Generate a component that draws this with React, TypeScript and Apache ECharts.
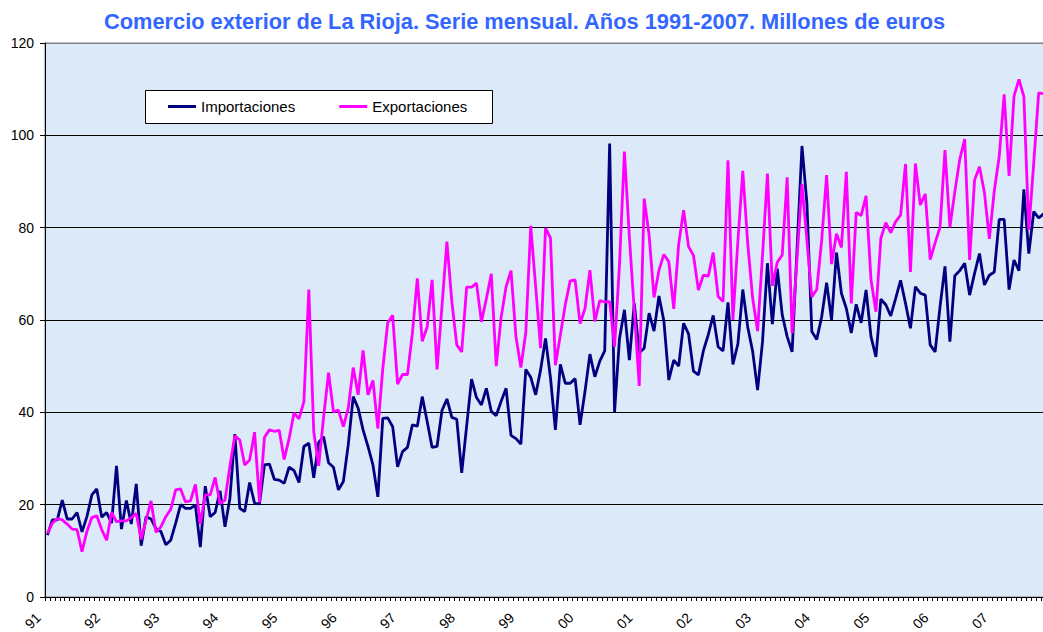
import React, { useEffect, useRef } from 'react';
import * as echarts from 'echarts';

const FONT = '"Liberation Sans", Arial, Helvetica, sans-serif';

const titleText = 'Comercio exterior de La Rioja. Serie mensual. Años 1991-2007. Millones de euros';
const seriesNames = ['Importaciones', 'Exportaciones'];
const yearLabels = ['91', '92', '93', '94', '95', '96', '97', '98', '99', '00', '01', '02', '03', '04', '05', '06', '07'];
const monthCodes = ['01', '02', '03', '04', '05', '06', '07', '08', '09', '10', '11', '12'];
const yMin = 0;
const yMax = 120;
const yInterval = 20;

// Importaciones, one row per year (Jan..Dec)
const importaciones = [
  13.4, 16.7, 16.7, 21.0, 16.9, 16.9, 18.3, 14.1, 17.4, 22.1, 23.4, 17.3,
  18.3, 16.0, 28.4, 14.7, 20.9, 15.8, 24.5, 11.1, 17.4, 16.9, 14.8, 14.2,
  11.3, 12.3, 16.0, 20.0, 19.2, 19.2, 19.9, 10.8, 24.0, 17.4, 18.3, 23.0,
  15.2, 21.4, 35.3, 19.2, 18.5, 24.8, 20.3, 20.2, 28.6, 28.8, 25.5, 25.3,
  24.6, 28.1, 27.4, 24.8, 32.6, 33.3, 25.8, 33.5, 34.7, 29.1, 28.1, 23.2,
  25.0, 33.0, 43.4, 40.9, 36.2, 32.6, 28.6, 21.7, 38.7, 38.8, 36.9, 28.2,
  31.5, 32.4, 37.3, 37.0, 43.4, 38.0, 32.4, 32.6, 40.4, 42.9, 38.9, 38.5,
  26.9, 37.0, 47.2, 43.2, 41.6, 45.2, 40.2, 39.3, 42.4, 45.2, 35.0, 34.3,
  33.1, 49.3, 47.6, 43.8, 49.2, 56.0, 47.5, 36.2, 50.4, 46.3, 46.3, 47.3,
  37.3, 44.5, 52.6, 47.7, 51.1, 53.3, 98.2, 40.1, 56.0, 62.2, 51.3, 63.6,
  52.9, 53.9, 61.5, 57.6, 65.2, 59.8, 47.0, 51.3, 50.0, 59.3, 57.0, 48.9,
  48.1, 53.3, 56.8, 61.0, 54.2, 53.3, 63.8, 50.4, 54.8, 66.6, 58.5, 53.2,
  44.8, 55.3, 72.3, 59.1, 71.1, 61.1, 56.4, 53.1, 75.3, 97.7, 85.3, 57.5,
  55.8, 60.7, 68.1, 60.0, 74.6, 65.8, 62.5, 57.2, 63.4, 59.4, 66.5, 56.4,
  52.0, 64.5, 63.3, 60.9, 64.7, 68.6, 63.6, 58.2, 67.2, 65.8, 65.4, 54.6,
  53.1, 62.9, 71.6, 55.3, 69.6, 70.7, 72.3, 65.4, 70.1, 74.4, 67.6, 69.7,
  70.4, 81.8, 81.8, 66.6, 73.0, 70.7, 88.3, 74.4, 83.5, 82.1, 83.0, 84.0,
];

// Exportaciones, one row per year (Jan..Dec)
const exportaciones = [
  13.8, 16.0, 17.0, 16.7, 15.8, 14.7, 14.6, 9.8, 14.2, 17.2, 17.6, 14.6,
  12.3, 18.3, 16.3, 16.5, 16.5, 17.2, 18.1, 12.5, 16.7, 20.8, 14.0, 15.2,
  17.4, 19.0, 23.2, 23.4, 20.6, 20.8, 24.4, 15.8, 22.1, 22.1, 25.9, 20.2,
  21.0, 28.4, 34.9, 34.0, 28.6, 29.7, 35.7, 20.5, 34.6, 36.2, 35.9, 36.1,
  29.8, 34.3, 39.9, 38.6, 42.3, 66.6, 35.8, 28.4, 39.0, 48.6, 40.1, 40.5,
  36.9, 40.9, 49.7, 43.8, 53.4, 43.8, 46.9, 36.5, 49.5, 59.4, 61.0, 46.1,
  48.2, 48.2, 57.1, 69.0, 55.4, 58.5, 68.7, 49.3, 63.0, 77.0, 64.0, 54.6,
  53.1, 67.1, 67.1, 68.0, 59.6, 64.6, 70.0, 50.0, 60.6, 67.2, 70.7, 56.4,
  49.7, 57.3, 80.4, 67.2, 53.9, 79.9, 77.8, 50.2, 56.7, 63.3, 68.5, 68.7,
  59.2, 62.5, 70.8, 59.7, 64.2, 63.9, 64.0, 54.2, 72.0, 96.5, 78.0, 62.0,
  45.7, 86.3, 78.4, 64.9, 70.8, 74.2, 72.6, 62.4, 76.4, 83.8, 75.9, 74.0,
  66.5, 69.7, 69.5, 74.6, 65.1, 64.0, 94.6, 60.0, 77.0, 92.3, 76.6, 64.7,
  57.6, 74.0, 91.7, 67.4, 72.5, 74.1, 90.9, 57.1, 73.3, 89.5, 77.3, 65.0,
  66.6, 77.3, 91.4, 72.1, 78.7, 75.7, 92.1, 63.6, 83.3, 82.6, 86.9, 68.7,
  61.8, 77.7, 81.1, 78.9, 81.3, 82.7, 93.8, 70.4, 93.9, 84.9, 87.3, 73.1,
  76.7, 80.1, 96.8, 80.1, 87.8, 94.8, 99.2, 73.0, 90.3, 93.2, 87.6, 77.6,
  88.0, 95.4, 108.9, 91.2, 108.5, 112.1, 108.4, 79.5, 94.0, 109.2, 109.0, 108.0,
];

export default function App() {
  const ref = useRef<HTMLDivElement>(null);

  useEffect(() => {
    if (!ref.current) return;
    const chart = echarts.init(ref.current, null, { renderer: 'svg' });
    const categories = yearLabels.flatMap((y) => monthCodes.map((m) => `${y}/${m}`));

    chart.setOption({
      animation: false,
      backgroundColor: '#ffffff',
      textStyle: { fontFamily: FONT },
      title: {
        text: titleText,
        left: 99,
        top: 5,
        textStyle: { color: '#3366ff', fontSize: 21.8, fontWeight: 'bold', fontFamily: FONT },
      },
      graphic: [
        {
          type: 'rect',
          z: 10,
          shape: { x: 145.5, y: 90.5, width: 347, height: 33 },
          style: { fill: '#ffffff', stroke: '#000000', lineWidth: 1 },
        },
      ],
      legend: {
        data: seriesNames,
        left: 163,
        top: 94,
        z: 20,
        itemGap: 44,
        itemWidth: 28,
        itemHeight: 3,
        icon: 'rect',
        textStyle: { fontSize: 15, color: '#000', fontFamily: FONT },
      },
      grid: {
        left: 45,
        top: 43,
        width: 1006,
        height: 554,
        outerBoundsMode: 'none',
        containLabel: false,
        show: true,
        backgroundColor: '#dce9f8',
        borderColor: '#808080',
        borderWidth: 1,
      },
      xAxis: {
        type: 'category',
        data: categories,
        boundaryGap: true,
        axisLine: { lineStyle: { color: '#000', width: 1 } },
        axisTick: { show: true, interval: 0, length: 4, lineStyle: { color: '#000' } },
        axisLabel: {
          interval: 11,
          rotate: 45,
          margin: 9,
          padding: [0, 13, 0, 0],
          fontSize: 14,
          color: '#000',
          fontFamily: FONT,
          formatter: (v: string) => v.split('/')[0],
        },
        splitLine: { show: false },
      },
      yAxis: {
        type: 'value',
        min: yMin,
        max: yMax,
        interval: yInterval,
        axisLine: { show: true, lineStyle: { color: '#000', width: 1 } },
        axisTick: { show: true, length: 5, lineStyle: { color: '#000' } },
        axisLabel: { fontSize: 14, color: '#000', margin: 11, fontFamily: FONT },
        splitLine: {
          show: true,
          lineStyle: { color: ['#000', '#000', '#000', '#000', '#000', '#000', '#808080'], width: 1 },
        },
      },
      series: [
        {
          name: seriesNames[0],
          type: 'line',
          data: importaciones,
          showSymbol: false,
          symbol: 'none',
          color: '#000080',
          lineStyle: { color: '#000080', width: 2.8 },
        },
        {
          name: seriesNames[1],
          type: 'line',
          data: exportaciones,
          showSymbol: false,
          symbol: 'none',
          color: '#ff00ff',
          lineStyle: { color: '#ff00ff', width: 2.8 },
        },
      ],
    });

    return () => chart.dispose();
  }, []);

  return (
    <div
      ref={ref}
      style={{ position: 'fixed', left: 0, top: 0, width: 1043, height: 632, background: '#fff' }}
    />
  );
}
